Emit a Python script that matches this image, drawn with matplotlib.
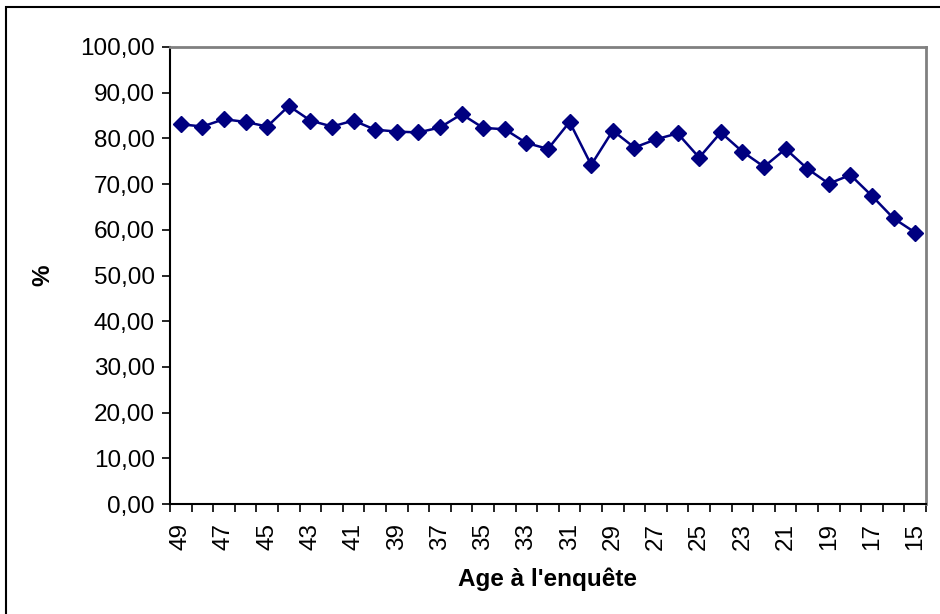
import matplotlib
matplotlib.use("Agg")
import matplotlib.pyplot as plt
from matplotlib.patches import Rectangle
from matplotlib.ticker import FuncFormatter, FixedLocator

plt.rcParams['font.family'] = ['Liberation Sans', 'DejaVu Sans']

ages = list(range(49, 14, -1))
values = [83.1, 82.6, 84.2, 83.6, 82.6, 87.1, 83.9, 82.6, 83.9, 81.9,
          81.5, 81.3, 82.4, 85.3, 82.3, 82.0, 79.0, 77.7, 83.6, 74.2,
          81.7, 78.0, 79.8, 81.1, 75.8, 81.3, 77.1, 73.8, 77.7, 73.4,
          70.1, 72.0, 67.4, 62.5, 59.4]
y_ticks = list(range(0, 101, 10))

FS = 17.5

fig = plt.figure(figsize=(9.4, 6.14), dpi=100)
fig.patch.set_facecolor('white')

# chart-area frame
fig.patches.append(Rectangle((6 / 940, -0.1), 1.1, (614 - 7) / 614 + 0.1,
                             transform=fig.transFigure, fill=False,
                             edgecolor='black', linewidth=1.5, zorder=0))

ax = fig.add_axes([170 / 940, (614 - 504) / 614, (926 - 170) / 940, (504 - 47) / 614])

x = list(range(len(ages)))
ax.plot(x, values, color='#000080', linewidth=1.8, marker='D', markersize=8,
        markerfacecolor='#000080', markeredgecolor='#000080', clip_on=False)

ax.set_xlim(-0.5, len(ages) - 0.5)
ax.set_ylim(0, 100)

ax.yaxis.set_major_locator(FixedLocator(y_ticks))
ax.yaxis.set_major_formatter(FuncFormatter(lambda v, p: f"{v:.2f}".replace('.', ',')))
ax.tick_params(axis='y', direction='out', length=6, width=1.2, labelsize=FS, pad=5)

label_idx = [i for i, a in enumerate(ages) if a % 2 == 1]
ax.set_xticks(label_idx)
ax.set_xticklabels([str(ages[i]) for i in label_idx], rotation=90, fontsize=FS)
ax.set_xticks([i - 0.5 for i in range(len(ages) + 1)], minor=True)
ax.tick_params(axis='x', which='major', length=0, pad=14)
ax.tick_params(axis='x', which='minor', direction='out', length=6, width=1.2)

for side in ('left', 'bottom'):
    ax.spines[side].set_color('black')
    ax.spines[side].set_linewidth(1.5)
for side in ('top', 'right'):
    ax.spines[side].set_color('#808080')
    ax.spines[side].set_linewidth(2)

ax.set_xlabel("Age à l'enquête", fontsize=FS, fontweight='bold', labelpad=12)
ax.set_ylabel("%", fontsize=FS, fontweight='bold')
ax.yaxis.set_label_coords((54 - 170) / (926 - 170), (504 - 275) / (504 - 47))

fig.savefig("out.png", dpi=100)
